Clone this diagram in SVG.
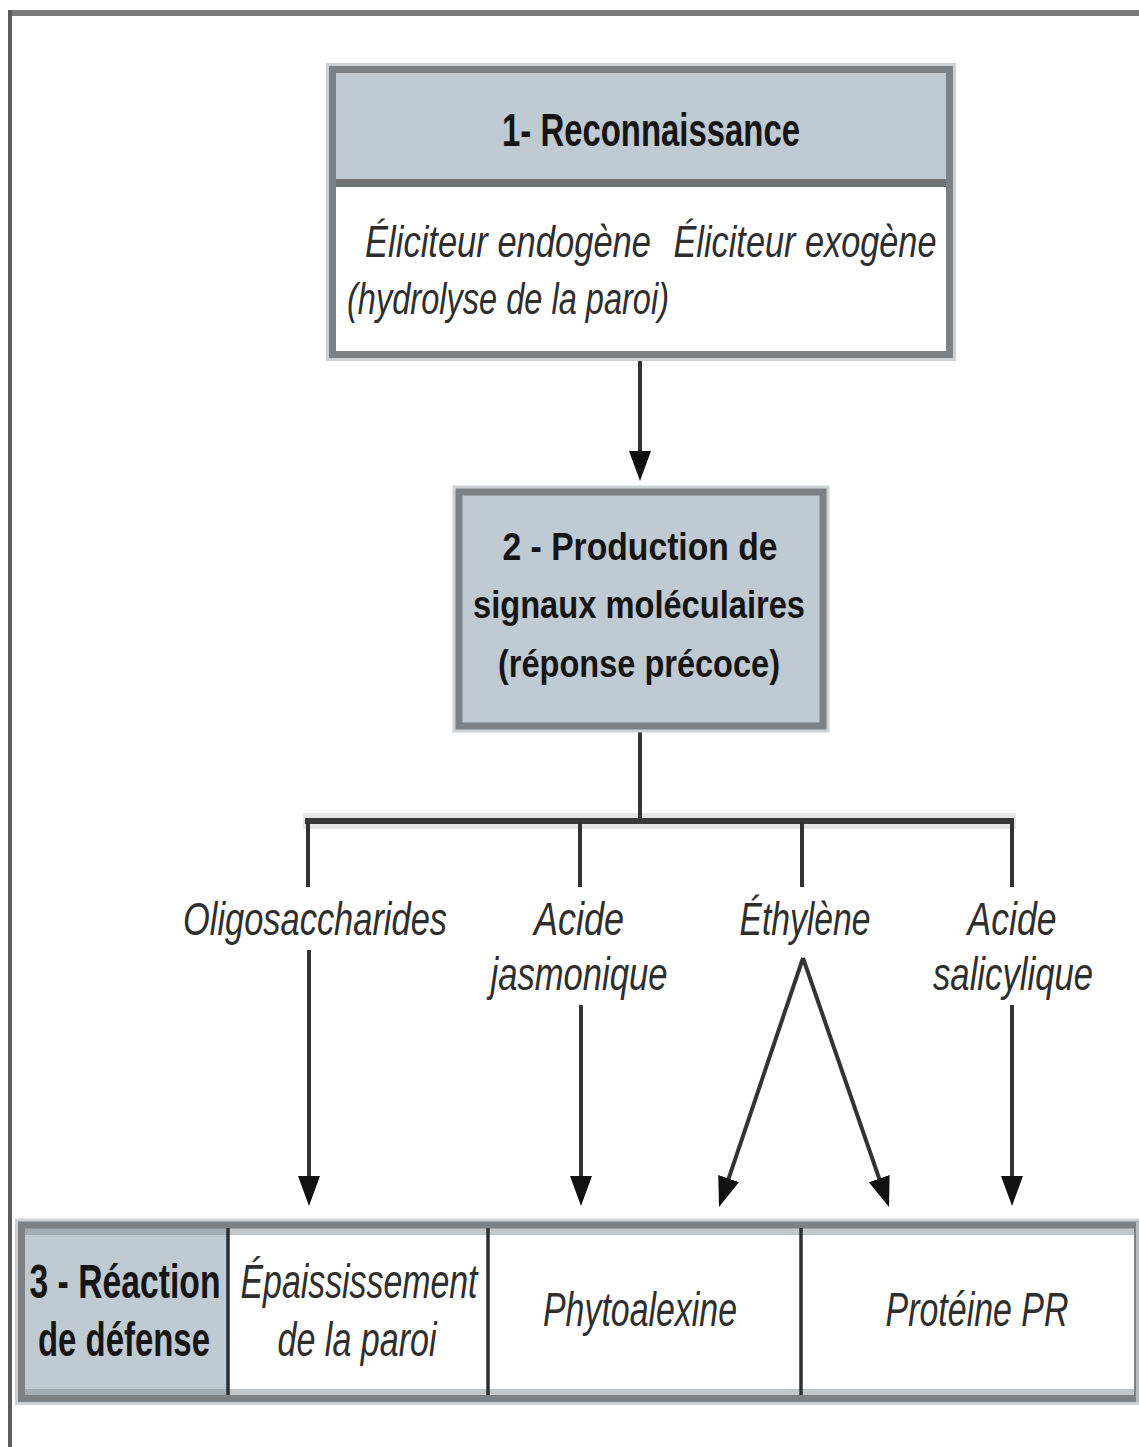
<svg xmlns="http://www.w3.org/2000/svg" width="1139" height="1447" viewBox="0 0 1139 1447">
<style>
.halo{fill:none;stroke:#cdd1d4;stroke-width:13}
.bord{fill:none;stroke:#7b8185;stroke-width:7}
.hdr{fill:#bfcad3}
.t{font-family:"Liberation Sans",Arial,sans-serif;text-anchor:middle}
.b{font-weight:bold;fill:#151515}
.i{font-style:italic;fill:#2e2e2e}
.ln{stroke:#333;stroke-width:4;fill:none}
.dv{stroke:#2e2e2e;stroke-width:3.5}
</style>
<defs>
<marker id="ah" markerUnits="userSpaceOnUse" markerWidth="32" markerHeight="24" refX="22" refY="12" orient="auto" viewBox="0 0 32 24"><path d="M0,1 L30,12 L0,23 Z" fill="#111"/></marker>
</defs>

<g id="frame">
<rect x="8" y="10" width="1131" height="6" fill="#7a7a7a"/>
<rect x="8" y="10" width="4" height="1437" fill="#5c5c5c"/>
</g>

<g id="connectors">
<path d="M303,821 H1016" stroke="#e6e6e6" stroke-width="16"/>
<path d="M640,358 V473" class="ln" marker-end="url(#ah)"/>
<path d="M640,730 V821" class="ln"/>
<path d="M305,821 H1014" stroke="#383838" stroke-width="6"/>
<path d="M308,821 V887 M580,821 V887 M802,821 V887 M1012,821 V887" class="ln"/>
<path d="M309,950 V1198" class="ln" marker-end="url(#ah)"/>
<path d="M581,1005 V1198" class="ln" marker-end="url(#ah)"/>
<path d="M1012,1005 V1198" class="ln" marker-end="url(#ah)"/>
<path d="M803,958 L721.6,1199.4" class="ln" stroke-width="3" marker-end="url(#ah)"/>
<path d="M803,958 L886.4,1199.4" class="ln" stroke-width="3" marker-end="url(#ah)"/>
</g>

<g id="node-reconnaissance">
<rect x="332.5" y="69.5" width="617" height="285" class="halo"/>
<rect x="332.5" y="69.5" width="617" height="114" class="hdr"/>
<rect x="332.5" y="183" width="617" height="172" fill="#fff"/>
<line x1="336" y1="183" x2="946" y2="183" stroke="#6f7375" stroke-width="8"/>
<rect x="332.5" y="69.5" width="617" height="285" class="bord"/>
<text class="t b" transform="translate(651,146) scale(0.715,1)" font-size="46" textLength="416.8" lengthAdjust="spacingAndGlyphs">1- Reconnaissance</text>
<text class="t i" transform="translate(508,257) scale(0.785,1)" font-size="44" textLength="364.3" lengthAdjust="spacingAndGlyphs">Éliciteur endogène</text>
<text class="t i" transform="translate(805,257) scale(0.779,1)" font-size="44" textLength="337.6" lengthAdjust="spacingAndGlyphs">Éliciteur exogène</text>
<text class="t i" transform="translate(508,314) scale(0.74,1)" font-size="44" textLength="435.1" lengthAdjust="spacingAndGlyphs">(hydrolyse de la paroi)</text>
</g>

<g id="node-production">
<rect x="459" y="492" width="364" height="234" class="halo"/>
<rect x="459" y="492" width="364" height="234" class="hdr"/>
<rect x="459" y="492" width="364" height="234" class="bord"/>
<text class="t b" transform="translate(640,560) scale(0.886,1)" font-size="38" textLength="310.4" lengthAdjust="spacingAndGlyphs">2 - Production de</text>
<text class="t b" transform="translate(639,618) scale(0.859,1)" font-size="38" textLength="386.5" lengthAdjust="spacingAndGlyphs">signaux moléculaires</text>
<text class="t b" transform="translate(639,677) scale(0.856,1)" font-size="38" textLength="329.4" lengthAdjust="spacingAndGlyphs">(réponse précoce)</text>
</g>

<g id="label-oligosaccharides">
<text class="t i" transform="translate(315,935) scale(0.748,1)" font-size="46" textLength="352.9" lengthAdjust="spacingAndGlyphs">Oligosaccharides</text>
</g>
<g id="label-jasmonique">
<text class="t i" transform="translate(579,935) scale(0.782,1)" font-size="46" textLength="115.1" lengthAdjust="spacingAndGlyphs">Acide</text>
<text class="t i" transform="translate(579,990) scale(0.753,1)" font-size="46" textLength="235.1" lengthAdjust="spacingAndGlyphs">jasmonique</text>
</g>
<g id="label-ethylene">
<text class="t i" transform="translate(805,935) scale(0.732,1)" font-size="46" textLength="179" lengthAdjust="spacingAndGlyphs">Éthylène</text>
</g>
<g id="label-salicylique">
<text class="t i" transform="translate(1012,935) scale(0.774,1)" font-size="46" textLength="115" lengthAdjust="spacingAndGlyphs">Acide</text>
<text class="t i" transform="translate(1013,990) scale(0.754,1)" font-size="46" textLength="212.2" lengthAdjust="spacingAndGlyphs">salicylique</text>
</g>

<g id="node-reaction">
<rect x="21.5" y="1225" width="1116" height="173.5" class="halo"/>
<rect x="21.5" y="1225" width="1116" height="173.5" fill="#fff"/>
<rect x="24" y="1228" width="204" height="167" class="hdr"/>
<rect x="24" y="1228" width="204" height="7" fill="#a3adb4"/>
<rect x="24" y="1389" width="204" height="6" fill="#a3adb4"/>
<rect x="228" y="1228" width="908" height="7" fill="#c2c6c9"/>
<rect x="228" y="1389" width="908" height="6" fill="#c2c6c9"/>
<rect x="21.5" y="1225" width="1116" height="173.5" class="bord"/>
<line x1="1137.5" y1="1222" x2="1137.5" y2="1402" stroke="#b8bcbe" stroke-width="3"/>
<line x1="228" y1="1228" x2="228" y2="1395" class="dv"/>
<line x1="488" y1="1228" x2="488" y2="1395" class="dv"/>
<line x1="801" y1="1228" x2="801" y2="1395" class="dv"/>
<text class="t b" transform="translate(125,1298) scale(0.702,1)" font-size="48" textLength="272.1" lengthAdjust="spacingAndGlyphs">3 - Réaction</text>
<text class="t b" transform="translate(124,1356) scale(0.686,1)" font-size="48" textLength="250.7" lengthAdjust="spacingAndGlyphs">de défense</text>
<text class="t i" transform="translate(359,1298) scale(0.705,1)" font-size="48" textLength="336.2" lengthAdjust="spacingAndGlyphs">Épaississement</text>
<text class="t i" transform="translate(357,1356) scale(0.709,1)" font-size="48" textLength="224.3" lengthAdjust="spacingAndGlyphs">de la paroi</text>
<text class="t i" transform="translate(640,1326) scale(0.706,1)" font-size="48" textLength="274.8" lengthAdjust="spacingAndGlyphs">Phytoalexine</text>
<text class="t i" transform="translate(977,1326) scale(0.707,1)" font-size="48" textLength="258.8" lengthAdjust="spacingAndGlyphs">Protéine PR</text>
</g>
</svg>
